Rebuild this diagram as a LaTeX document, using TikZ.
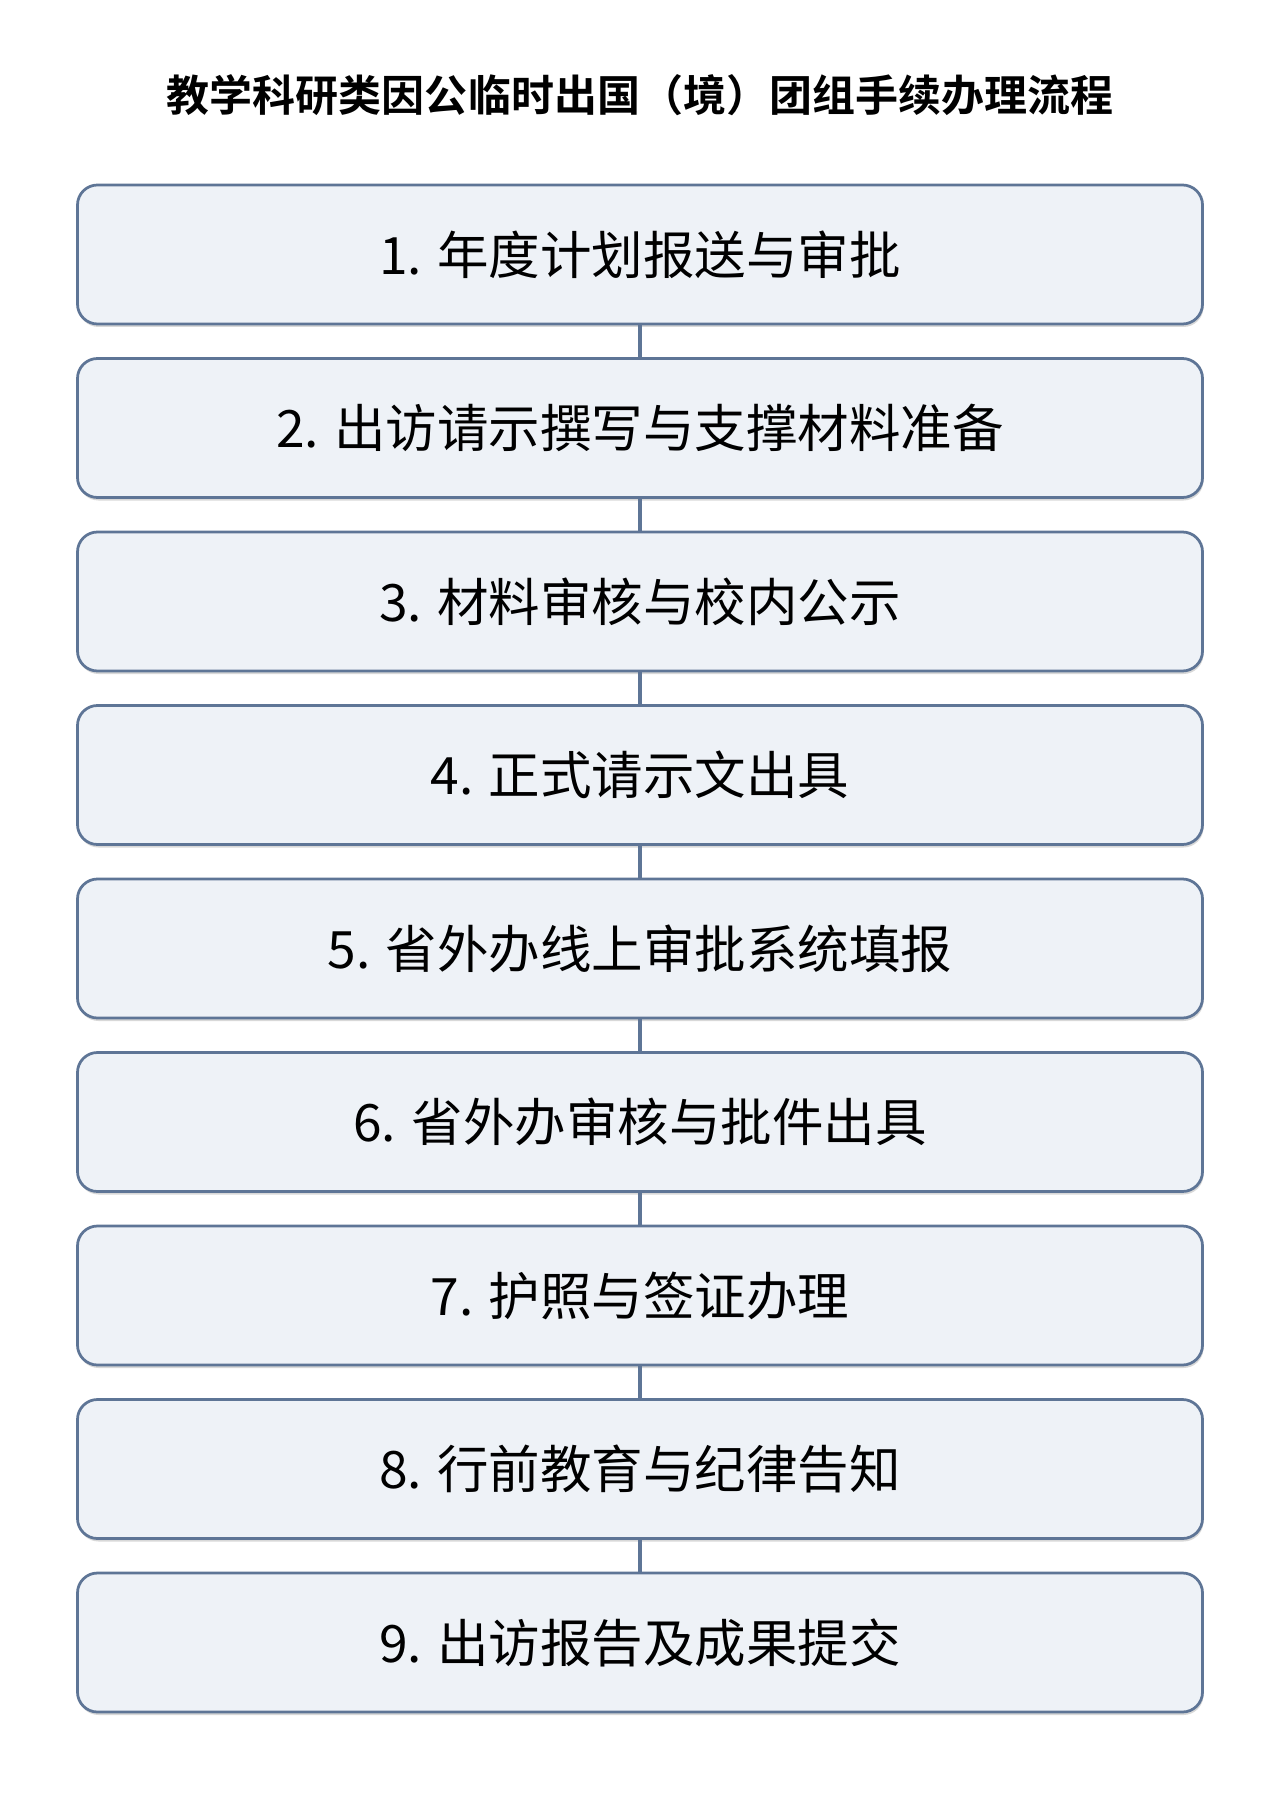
\documentclass[tikz,border=0pt]{standalone}
\usepackage{fontspec}
\setmainfont{Noto Sans CJK SC}
\newfontfamily\titlefont{Noto Sans CJK SC Bold}
\usetikzlibrary{shadows}
\definecolor{boxfill}{HTML}{EEF2F7}
\definecolor{boxline}{HTML}{5E7596}
\tikzset{
  stepbox/.style={draw=boxline, line width=1.1pt, fill=boxfill, rounded corners=8pt,
    minimum width=450pt, minimum height=55.6pt, font=\fontsize{20.6pt}{24pt}\selectfont,
    drop shadow={shadow xshift=0.4pt, shadow yshift=-1.2pt, opacity=0.3}},
  link/.style={draw=boxline, line width=1.3pt}
}
\begin{document}
\begin{tikzpicture}[x=0.4pt,y=-0.4pt]
      \useasboundingbox[fill=white] (0,0) rectangle (1280,1810);
      \node[font=\titlefont\fontsize{17.2pt}{20pt}\selectfont] (title) at (640,95) {教学科研类因公临时出国（境）团组手续办理流程};
      \draw
        (640,254.5) node[stepbox] (1){1. 年度计划报送与审批}
        (640,428.0) node[stepbox] (2){2. 出访请示撰写与支撑材料准备}
        (640,601.5) node[stepbox] (3){3. 材料审核与校内公示}
        (640,775.0) node[stepbox] (4){4. 正式请示文出具}
        (640,948.5) node[stepbox] (5){5. 省外办线上审批系统填报}
        (640,1122.0) node[stepbox] (6){6. 省外办审核与批件出具}
        (640,1295.5) node[stepbox] (7){7. 护照与签证办理}
        (640,1469.0) node[stepbox] (8){8. 行前教育与纪律告知}
        (640,1642.5) node[stepbox] (9){9. 出访报告及成果提交};
      \begin{scope}[link]
        \draw (1) to (2);
        \draw (2) to (3);
        \draw (3) to (4);
        \draw (4) to (5);
        \draw (5) to (6);
        \draw (6) to (7);
        \draw (7) to (8);
        \draw (8) to (9);
      \end{scope}
    \end{tikzpicture}
\end{document}
